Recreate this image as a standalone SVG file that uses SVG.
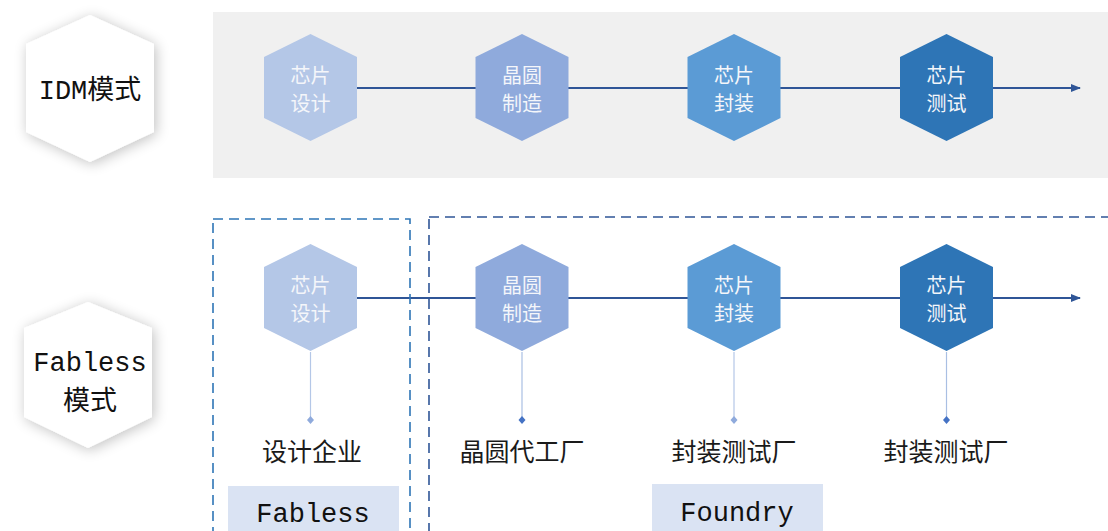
<svg xmlns="http://www.w3.org/2000/svg" width="1108" height="531" viewBox="0 0 1108 531">
<style>
.mode{font-family:"Liberation Mono","Noto Sans CJK SC",monospace;font-size:27px;fill:#111;text-anchor:middle}
.hl{font-family:"Noto Sans CJK SC",sans-serif;font-size:20px;fill:#f4f6fa;text-anchor:middle}
.lbl{font-family:"Noto Sans CJK SC",sans-serif;font-size:25px;fill:#1a1a1a;text-anchor:middle}
.box{fill:#dae3f3}
.boxt{font-family:"Liberation Mono",monospace;font-size:27px;fill:#111;text-anchor:middle}
.flow{stroke:#2f5597;stroke-width:2;fill:none}
.dash{fill:none;stroke-width:1.6;stroke-dasharray:10 6}
.c1{fill:#b4c7e7}.c2{fill:#8faadc}.c3{fill:#5b9bd5}.c4{fill:#2e75b6}
</style>
<defs>
<filter id="sh" x="-40%" y="-40%" width="180%" height="180%">
<feGaussianBlur in="SourceAlpha" stdDeviation="7"/>
<feOffset dx="2" dy="2"/>
<feComponentTransfer><feFuncA type="linear" slope="0.25"/></feComponentTransfer>
<feMerge><feMergeNode/><feMergeNode in="SourceGraphic"/></feMerge>
</filter>
<marker id="arr" markerWidth="10" markerHeight="8" refX="9" refY="4" orient="auto" markerUnits="userSpaceOnUse">
<path d="M0,0 L10,4 L0,8 Z" fill="#2f5597"/>
</marker>
<polygon id="ph" points="0,-54 46.5,-31 46.5,30 0,53 -46.5,30 -46.5,-31"/>
</defs>
<rect x="213" y="12" width="895" height="166" fill="#f0f0f0"/>
<g id="connectors">
<line class="flow" x1="357" y1="88" x2="1080" y2="88" marker-end="url(#arr)"/>
<line class="flow" x1="357" y1="298" x2="1080" y2="298" marker-end="url(#arr)"/>
<line x1="310.5" y1="352" x2="310.5" y2="420" stroke="#b4c7e7" stroke-width="1.2"/>
<line x1="522" y1="352" x2="522" y2="420" stroke="#a9bfe3" stroke-width="1.2"/>
<line x1="734" y1="352" x2="734" y2="420" stroke="#b4c7e7" stroke-width="1.2"/>
<line x1="946.5" y1="352" x2="946.5" y2="420" stroke="#a9bfe3" stroke-width="1.2"/>
<polygon points="310.5,416 314,420 310.5,424 307,420" fill="#8faadc"/>
<polygon points="522,416 525.5,420 522,424 518.5,420" fill="#4472c4"/>
<polygon points="734,416 737.5,420 734,424 730.5,420" fill="#8faadc"/>
<polygon points="946.5,416 950,420 946.5,424 943,420" fill="#4472c4"/>
</g>
<g id="group-fabless">
<rect class="dash" x="213" y="219" width="197" height="330" stroke="#2e75b6"/>
</g>
<g id="group-foundry">
<rect class="dash" x="429" y="217" width="700" height="330" stroke="#2f5597"/>
</g>
<g id="mode-idm">
<polygon points="90,15 154,44 154,132 90,162 26,132 26,44" fill="#fff" filter="url(#sh)"/>
<text class="mode" x="90" y="99">IDM模式</text>
</g>
<g id="mode-fabless">
<polygon points="88,302 152,328 152,417 88,448 24,417 24,328" fill="#fff" filter="url(#sh)"/>
<text class="mode" x="90" y="371">Fabless</text>
<text class="mode" x="90" y="410">模式</text>
</g>
<g id="idm-design"><use href="#ph" x="310.5" y="88" class="c1"/><text class="hl" x="310.5" y="83">芯片</text><text class="hl" x="310.5" y="111">设计</text></g>
<g id="idm-wafer"><use href="#ph" x="522" y="88" class="c2"/><text class="hl" x="522" y="83">晶圆</text><text class="hl" x="522" y="111">制造</text></g>
<g id="idm-package"><use href="#ph" x="734" y="88" class="c3"/><text class="hl" x="734" y="83">芯片</text><text class="hl" x="734" y="111">封装</text></g>
<g id="idm-test"><use href="#ph" x="946.5" y="88" class="c4"/><text class="hl" x="946.5" y="83">芯片</text><text class="hl" x="946.5" y="111">测试</text></g>
<g id="fab-design"><use href="#ph" x="310.5" y="298" class="c1"/><text class="hl" x="310.5" y="293">芯片</text><text class="hl" x="310.5" y="321">设计</text></g>
<g id="fab-wafer"><use href="#ph" x="522" y="298" class="c2"/><text class="hl" x="522" y="293">晶圆</text><text class="hl" x="522" y="321">制造</text></g>
<g id="fab-package"><use href="#ph" x="734" y="298" class="c3"/><text class="hl" x="734" y="293">芯片</text><text class="hl" x="734" y="321">封装</text></g>
<g id="fab-test"><use href="#ph" x="946.5" y="298" class="c4"/><text class="hl" x="946.5" y="293">芯片</text><text class="hl" x="946.5" y="321">测试</text></g>
<g id="label-design"><text class="lbl" x="312" y="461">设计企业</text></g>
<g id="label-wafer"><text class="lbl" x="522" y="461">晶圆代工厂</text></g>
<g id="label-package"><text class="lbl" x="734" y="461">封装测试厂</text></g>
<g id="label-test"><text class="lbl" x="946" y="461">封装测试厂</text></g>
<g id="box-fabless"><rect class="box" x="228" y="486" width="171" height="60"/><text class="boxt" x="313" y="522">Fabless</text></g>
<g id="box-foundry"><rect class="box" x="652" y="484" width="171" height="60"/><text class="boxt" x="737" y="521">Foundry</text></g>
</svg>
